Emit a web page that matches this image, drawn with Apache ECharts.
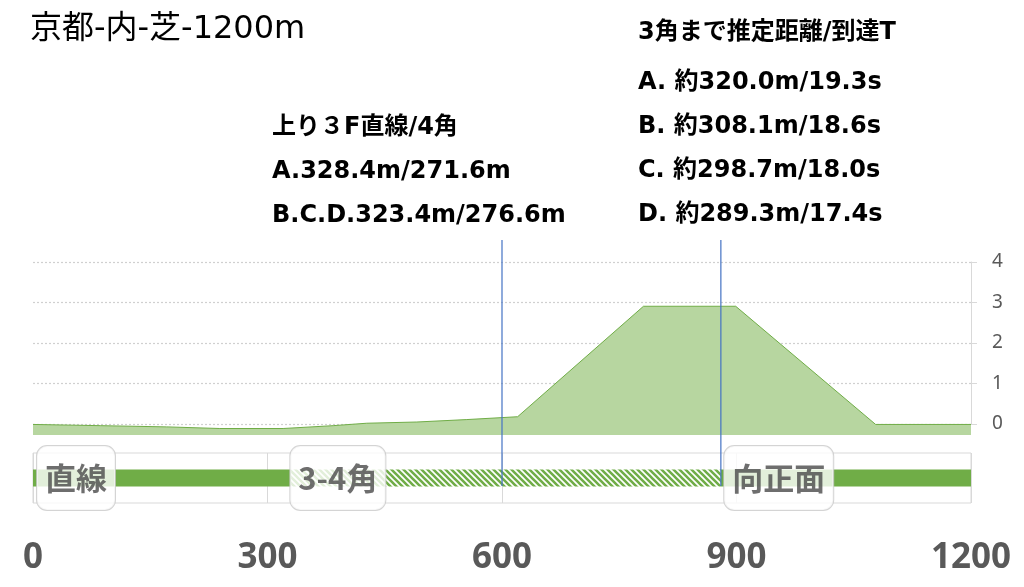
<!DOCTYPE html>
<html><head><meta charset="utf-8">
<script src="https://cdn.jsdelivr.net/npm/echarts@6/dist/echarts.min.js"></script>
<style>html,body{margin:0;padding:0;background:#fff}#c{width:1024px;height:587px}</style>
</head><body><div id="c"></div>
<script>
// ---- data ----
const distances  = [0, 86, 171, 239, 320, 384, 427, 491, 555, 620, 781, 899, 1078, 1200];
const elevations = [0.0, -0.03, -0.06, -0.10, -0.10, -0.03, 0.03, 0.06, 0.12, 0.19, 2.91, 2.91, 0.0, 0.0];
const yTicks = [0, 1, 2, 3, 4];
const xTicks = [0, 300, 600, 900, 1200];
const sectionStarts  = [0, 330, 880];
const sectionEnds    = [330, 880, 1200];
const sectionHatched = [0, 1, 0];
const sectionNames   = ['直線', '3-4角', '向正面'];
const sectionLabelAt = [55, 390, 954];
const markerLines = [600, 880];
const titleText = '京都-内-芝-1200m';
const leftNoteLines = ['上り３F直線/4角', 'A.328.4m/271.6m', 'B.C.D.323.4m/276.6m'];
const rightNoteHead = '3角まで推定距離/到達T';
const rightNoteLines = ['A. 約320.0m/19.3s', 'B. 約308.1m/18.6s', 'C. 約298.7m/18.0s', 'D. 約289.3m/17.4s'];

// ---- hatch pattern ----
const pc = document.createElement('canvas'); pc.width = 6; pc.height = 6;
const g = pc.getContext('2d'); g.strokeStyle = '#70ad47'; g.lineWidth = 2.6;
g.beginPath(); g.moveTo(-1,-1); g.lineTo(7,7); g.moveTo(-1,5); g.lineTo(1,7); g.moveTo(5,-1); g.lineTo(7,1); g.stroke();
const hatch = { image: pc, repeat: 'repeat' };

const xMin = xTicks[0], xMax = xTicks[xTicks.length-1], xInt = xTicks[1]-xTicks[0];
const latinCjk = "'DejaVu Sans', 'Noto Sans CJK JP', sans-serif";

const chart = echarts.init(document.getElementById('c'));
chart.setOption({
  animation: false,
  backgroundColor: '#fff',
  title: [
    { text: titleText, left: 30, top: 10, padding: 0,
      textStyle: { fontFamily: latinCjk, fontSize: 32, fontWeight: 'normal', color: '#000', lineHeight: 40 } },
    { text: leftNoteLines.join('\n'), left: 272, top: 106, padding: 0,
      textStyle: { fontFamily: latinCjk, fontSize: 24, fontWeight: 'bold', color: '#000', lineHeight: 44 } },
    { text: rightNoteHead, left: 638, top: 11, padding: 0,
      textStyle: { fontFamily: latinCjk, fontSize: 24, fontWeight: 'bold', color: '#000', lineHeight: 44 } },
    { text: rightNoteLines.join('\n'), left: 638, top: 61, padding: 0,
      textStyle: { fontFamily: latinCjk, fontSize: 24, fontWeight: 'bold', color: '#000', lineHeight: 44 } }
  ],
  grid: [
    { left: 33, right: 53, top: 262, bottom: 152 },          // area
    { left: 33, right: 53, top: 262, bottom: 163 },          // y axis overlay
    { left: 33, right: 53, top: 453, bottom: 84, show: true, borderColor: '#d9d9d9', borderWidth: 1 }, // strip
    { left: 33, right: 53, top: 240, bottom: 101 }           // marker lines
  ],
  xAxis: [
    { gridIndex: 0, type: 'value', min: xMin, max: xMax, show: false },
    { gridIndex: 1, type: 'value', min: xMin, max: xMax, show: false },
    { gridIndex: 2, type: 'value', min: xMin, max: xMax, interval: xInt,
      axisLine: { show: false }, axisTick: { show: false },
      splitLine: { show: true, lineStyle: { color: '#d9d9d9', width: 1 } },
      axisLabel: { margin: 38, fontFamily: 'Noto Sans', fontSize: 35, fontWeight: 'bold', color: '#595959',
        formatter: v => String(v) } },
    { gridIndex: 3, type: 'value', min: xMin, max: xMax, show: false }
  ],
  yAxis: [
    { gridIndex: 0, type: 'value', min: -0.26, max: yTicks[yTicks.length-1], show: false },
    { gridIndex: 1, type: 'value', position: 'right', min: yTicks[0], max: yTicks[yTicks.length-1], interval: yTicks[1]-yTicks[0],
      axisLine: { show: true, onZero: false, lineStyle: { color: '#d9d9d9' } },
      axisTick: { show: true, length: 6, lineStyle: { color: '#d9d9d9' } },
      axisLabel: { margin: 21, fontFamily: 'Noto Sans', fontSize: 19, color: '#595959' },
      splitLine: { show: true, lineStyle: { color: '#d0d0d0', width: 1.2, type: [2, 2] } } },
    { gridIndex: 2, type: 'value', min: 0, max: 1, show: false },
    { gridIndex: 3, type: 'value', min: 0, max: 1, show: false }
  ],
  series: [
    { type: 'line', xAxisIndex: 0, yAxisIndex: 0, z: 2,
      data: distances.map((d, i) => [d, elevations[i]]),
      symbol: 'none', silent: true,
      lineStyle: { color: '#70ad47', width: 1 },
      areaStyle: { color: '#b7d6a0', opacity: 1, origin: 'start' } },
    { type: 'custom', xAxisIndex: 2, yAxisIndex: 2, z: 2, silent: true,
      data: sectionStarts.map((s, i) => [s, sectionEnds[i], sectionHatched[i]]),
      renderItem: function (params, api) {
        const s = api.coord([api.value(0), 0.5]);
        const e = api.coord([api.value(1), 0.5]);
        const h = 17;
        return { type: 'rect', shape: { x: s[0], y: s[1] - h / 2, width: e[0] - s[0], height: h },
          style: { fill: api.value(2) ? hatch : '#70ad47' } };
      } },
    { type: 'custom', xAxisIndex: 3, yAxisIndex: 3, z: 4, silent: true,
      data: markerLines.map(v => [v]),
      renderItem: function (params, api) {
        const a = api.coord([api.value(0), 0]);
        const b = api.coord([api.value(0), 1]);
        return { type: 'line', shape: { x1: a[0], y1: a[1], x2: b[0], y2: b[1] },
          style: { stroke: '#4472c4', lineWidth: 1.2 } };
      } },
    { type: 'scatter', xAxisIndex: 2, yAxisIndex: 2, z: 6, silent: true,
      symbolSize: 1, itemStyle: { color: 'rgba(0,0,0,0)' },
      data: sectionLabelAt.map((x, i) => ({ name: sectionNames[i], value: [x, 0.5] })),
      label: { show: true, position: 'inside', formatter: '{b}',
        fontFamily: "'Noto Sans CJK JP', sans-serif", fontSize: 31, fontWeight: 'bold', color: '#4a4a4a',
        lineHeight: 34, backgroundColor: '#fff', borderColor: '#c9c9c9', borderWidth: 1, borderRadius: 10,
        padding: [15, 8, 15, 8] } }
  ]
});
</script></body></html>
